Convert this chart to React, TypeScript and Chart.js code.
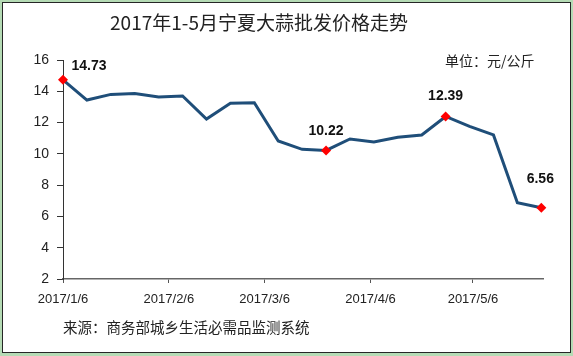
import React, { useEffect, useRef } from "react";
import { Chart, registerables } from "chart.js";

Chart.register(...registerables);

const dates = [
  "2017/1/6", "2017/1/13", "2017/1/20", "2017/1/27", "2017/2/3", "2017/2/10", "2017/2/17",
  "2017/2/24", "2017/3/3", "2017/3/10", "2017/3/17", "2017/3/24", "2017/3/31", "2017/4/7",
  "2017/4/14", "2017/4/21", "2017/4/28", "2017/5/5", "2017/5/12", "2017/5/19", "2017/5/26",
];
const prices = [
  14.73, 13.44, 13.8, 13.86, 13.64, 13.7, 12.23, 13.23, 13.27, 10.82, 10.29, 10.22, 10.95,
  10.76, 11.06, 11.21, 12.39, 11.76, 11.21, 6.88, 6.56,
];
const highlightIdx = [0, 11, 16, 20];
const tickLabels = ["2017/1/6", "2017/2/6", "2017/3/6", "2017/4/6", "2017/5/6"];
const yTicks = [2, 4, 6, 8, 10, 12, 14, 16];

const title = "2017年1-5月宁夏大蒜批发价格走势";
const unitText = "单位：元/公斤";
const sourceText = "来源：商务部城乡生活必需品监测系统";

function dayOffset(s: string): number {
  const [y, m, d] = s.split("/").map(Number);
  const [y0, m0, d0] = dates[0].split("/").map(Number);
  return (Date.UTC(y, m - 1, d) - Date.UTC(y0, m0 - 1, d0)) / 86400000;
}

const FONT = "'Liberation Sans', Arial, sans-serif";
const CJK = "'Noto Sans CJK SC', 'Liberation Sans', sans-serif";

export default function App() {
  const ref = useRef<HTMLCanvasElement>(null);

  useEffect(() => {
    document.body.style.margin = "0";
    const ctx = ref.current!;
    const points = dates.map((d, i) => ({ x: dayOffset(d), y: prices[i] }));
    const tickDays = tickLabels.map(dayOffset);
    const lastDay = dayOffset(dates[dates.length - 1]);

    const labelOffsets: Record<number, [number, number]> = {
      0: [26, -14],
      11: [0, -19],
      16: [0, -20],
      20: [-1, -29],
    };

    const labelPlugin = {
      id: "pointLabels",
      afterDatasetsDraw(chart: any) {
        const meta = chart.getDatasetMeta(0);
        const c = chart.ctx;
        c.save();
        c.font = `bold 14px ${FONT}`;
        c.fillStyle = "#111";
        c.textAlign = "center";
        c.textBaseline = "middle";
        highlightIdx.forEach((i) => {
          const el = meta.data[i];
          const off = labelOffsets[i] || [0, -18];
          c.fillText(prices[i].toFixed(2), el.x + off[0], el.y + off[1]);
        });
        c.restore();
      },
    };

    const chart = new Chart(ctx, {
      type: "line",
      data: {
        datasets: [
          {
            data: points,
            borderColor: "#1F4E79",
            borderWidth: 3,
            tension: 0,
            pointStyle: "rectRot",
            pointRadius: points.map((_, i) => (highlightIdx.includes(i) ? 5 : 0)),
            pointBackgroundColor: "#FF0000",
            pointBorderColor: "#FF0000",
            pointBorderWidth: 0,
            clip: false as any,
          },
        ],
      },
      options: {
        animation: false,
        responsive: false,
        maintainAspectRatio: false,
        events: [],
        layout: { padding: { left: 0, top: 60, right: 30, bottom: 46 } },
        plugins: { legend: { display: false }, tooltip: { enabled: false }, title: { display: false } },
        scales: {
          x: {
            type: "linear",
            min: 0,
            max: lastDay + 0.5,
            afterBuildTicks: (axis: any) => {
              axis.ticks = tickDays.map((v) => ({ value: v }));
            },
            afterFit: (axis: any) => {
              axis.height = 31;
            },
            ticks: {
              autoSkip: false,
              maxRotation: 0,
              padding: 9,
              color: "#222",
              font: { family: FONT, size: 13 },
              callback: (v: any) => {
                const i = tickDays.indexOf(Number(v));
                return i >= 0 ? tickLabels[i] : "";
              },
            },
            grid: { display: true, drawOnChartArea: false, tickLength: 4, color: "#555", lineWidth: 1 },
            border: { display: true, color: "#666", width: 1.5 },
          },
          y: {
            min: 2,
            max: 16,
            afterBuildTicks: (axis: any) => {
              axis.ticks = yTicks.map((v) => ({ value: v }));
            },
            afterFit: (axis: any) => {
              axis.width = 63;
            },
            ticks: {
              padding: 8,
              color: "#222",
              font: { family: FONT, size: 14 },
            },
            grid: { display: true, drawOnChartArea: false, tickLength: 6, color: "#333", lineWidth: 1 },
            border: { display: true, color: "#333", width: 1 },
          },
        },
      },
      plugins: [labelPlugin],
    });
    return () => chart.destroy();
  }, []);

  return (
    <div style={{ position: "relative", width: 573, height: 356, background: "#b5dbb5", overflow: "hidden" }}>
      <div
        style={{
          position: "absolute",
          left: 2,
          top: 2,
          width: 569,
          height: 351,
          border: "1px solid #262626",
          boxSizing: "border-box",
          background: "#fff",
        }}
      />
      <canvas ref={ref} width={573} height={356} style={{ position: "absolute", left: 0, top: 0 }} />
      <div
        style={{
          position: "absolute",
          left: 0,
          width: 518,
          top: 10,
          textAlign: "center",
          fontFamily: CJK,
          fontSize: 19,
          lineHeight: "24px",
          color: "#222",
        }}
      >
        {title}
      </div>
      <div
        style={{
          position: "absolute",
          left: 445,
          top: 51,
          fontFamily: CJK,
          fontSize: 14,
          lineHeight: "18px",
          color: "#222",
          whiteSpace: "nowrap",
        }}
      >
        {unitText}
      </div>
      <div
        style={{
          position: "absolute",
          left: 63,
          top: 318,
          fontFamily: CJK,
          fontSize: 14.5,
          lineHeight: "18px",
          color: "#222",
          whiteSpace: "nowrap",
        }}
      >
        {sourceText}
      </div>
    </div>
  );
}
